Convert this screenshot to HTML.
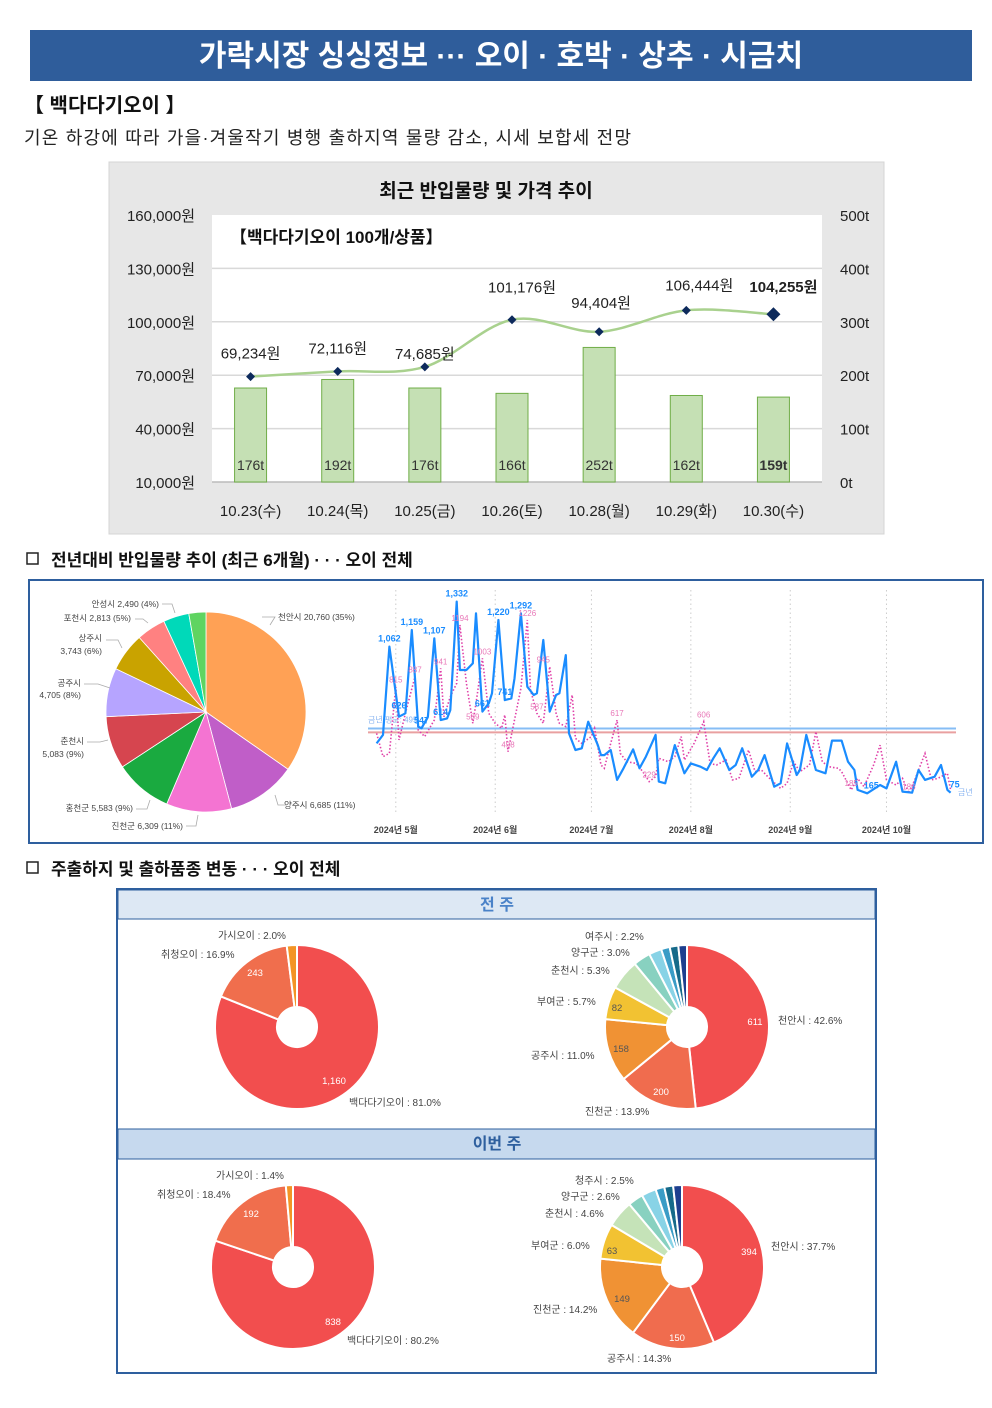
<!DOCTYPE html>
<html><head><meta charset="utf-8"><style>
html,body{margin:0;padding:0;background:#fff;}
body{width:992px;height:1403px;overflow:hidden;font-family:"Liberation Sans","Noto Sans CJK KR",sans-serif;}
svg text{font-family:"Liberation Sans","Noto Sans CJK KR",sans-serif;}
</style></head><body>
<svg id="root" width="992" height="1403" viewBox="0 0 992 1403" xmlns="http://www.w3.org/2000/svg">
<rect x="30" y="30" width="942" height="51" fill="#2f5d9b"/>
<text x="501" y="66" text-anchor="middle" fill="#fff" font-size="30" font-weight="bold">가락시장 싱싱정보 ··· 오이 · 호박 · 상추 · 시금치</text>
<text x="24" y="112" font-size="20" font-weight="bold" fill="#111">【 백다다기오이 】</text>
<text x="24" y="144" font-size="18" fill="#222" letter-spacing="1.2">기온 하강에 따라 가을·겨울작기 병행 출하지역 물량 감소, 시세 보합세 전망</text>

<g id="barchart">
<rect x="109" y="162" width="775" height="372" fill="#e7e7e7" stroke="#d4d4d4"/>
<text x="486" y="197" text-anchor="middle" font-size="19" font-weight="bold" fill="#111">최근 반입물량 및 가격 추이</text>
<rect x="212" y="215" width="610" height="267" fill="#fff"/>
<text x="230" y="243" font-size="17" font-weight="bold" fill="#111">【백다다기오이 100개/상품】</text>
</g>

<g>
<rect x="27" y="553" width="11" height="11" fill="none" stroke="#222" stroke-width="1.5"/>
<text x="51" y="566" font-size="17" font-weight="bold" fill="#111">전년대비 반입물량 추이 (최근 6개월) · · · 오이 전체</text>
<rect x="29" y="580" width="954" height="263" fill="#fff" stroke="#2e5f9e" stroke-width="2"/>
</g>
<g id="pie"></g>
<g id="line"></g>

<g>
<rect x="27" y="862" width="11" height="11" fill="none" stroke="#222" stroke-width="1.5"/>
<text x="51" y="875" font-size="17" font-weight="bold" fill="#111">주출하지 및 출하품종 변동 · · · 오이 전체</text>
<rect x="117" y="889" width="759" height="484" fill="#fff" stroke="#2e5f9e" stroke-width="2"/>
<rect x="118" y="890" width="757" height="29" fill="#dde8f4" stroke="#2e5f9e" stroke-width="1"/>
<text x="497" y="910" text-anchor="middle" font-size="16" font-weight="bold" fill="#4a82c8">전 주</text>
<rect x="118" y="1129" width="757" height="30" fill="#c6d9ee" stroke="#2e5f9e" stroke-width="1"/>
<text x="497" y="1149" text-anchor="middle" font-size="16" font-weight="bold" fill="#2e5f9e">이번 주</text>
</g>
<g id="donuts"></g>
</svg>
<script>
const NS="http://www.w3.org/2000/svg";
function mk(parent,tag,attrs,txt){const e=document.createElementNS(NS,tag);for(const k in attrs)e.setAttribute(k,attrs[k]);if(txt!==undefined)e.textContent=txt;parent.appendChild(e);return e;}

// ===== Bar/line chart data =====
const dates=["10.23(수)","10.24(목)","10.25(금)","10.26(토)","10.28(월)","10.29(화)","10.30(수)"];
const volumes=[176,192,176,166,252,162,159];
const prices=[69234,72116,74685,101176,94404,106444,104255];
const priceTicks=[10000,40000,70000,100000,130000,160000];
const volTicks=[0,100,200,300,400,500];

const bc=document.getElementById('barchart');
const pL=212,pR=822,pT=215,pB=482;
const yP=v=>pB-(v-10000)/150000*(pB-pT);
const yV=v=>pB-v/500*(pB-pT);
const step=(pR-pL)/dates.length;
const xC=i=>pL+step*(i+0.5)-5;
priceTicks.forEach((t,i)=>{
  if(i>0&&i<priceTicks.length-1){const g=mk(bc,'line',{x1:pL,x2:pR,y1:yP(t),y2:yP(t),stroke:'#d9d9d9','stroke-width':1.5});
  
  }
  const l=mk(bc,'text',{x:195,y:yP(t)+6,'text-anchor':'end','font-size':15,fill:'#222'},t.toLocaleString('en-US')+'원');
  
  
});
volTicks.forEach(t=>{
  const l=mk(bc,'text',{x:840,y:yV(t)+6,'font-size':15,fill:'#222'},t+'t');
  
  
});
mk(bc,'line',{x1:pL,x2:pR,y1:pB,y2:pB,stroke:'#bbb','stroke-width':1.5});
volumes.forEach((v,i)=>{
  const b=mk(bc,'rect',{x:xC(i)-16,y:yV(v),width:32,height:pB-yV(v),fill:'#c5e0b4',stroke:'#70ad47','stroke-width':1});
  
  
  const t=mk(bc,'text',{x:xC(i),y:pB-12,'text-anchor':'middle','font-size':14,fill:'#333','font-weight':i==volumes.length-1?'bold':'normal'},v+'t');
  
  
  const d=mk(bc,'text',{x:xC(i),y:516,'text-anchor':'middle','font-size':15,fill:'#222'},dates[i]);
  
  
});
// smooth price line
const pts=prices.map((p,i)=>[xC(i),yP(p)]);
let dStr='M'+pts[0][0]+','+pts[0][1];
for(let i=0;i<pts.length-1;i++){const p0=pts[Math.max(0,i-1)],p1=pts[i],p2=pts[i+1],p3=pts[Math.min(pts.length-1,i+2)];
  const c1=[p1[0]+(p2[0]-p0[0])/6,p1[1]+(p2[1]-p0[1])/6],c2=[p2[0]-(p3[0]-p1[0])/6,p2[1]-(p3[1]-p1[1])/6];
  dStr+=' C'+c1+' '+c2+' '+p2;}
const pl=mk(bc,'path',{d:dStr,fill:'none',stroke:'#a9d18e','stroke-width':2.5});


const lblOff=[[0,-18],[0,-18],[0,-8],[10,-27],[2,-24],[13,-20],[10,-22]];
pts.forEach((p,i)=>{
  const s=i==pts.length-1?7:4.5;
  const m=mk(bc,'path',{d:`M${p[0]},${p[1]-s} L${p[0]+s},${p[1]} L${p[0]},${p[1]+s} L${p[0]-s},${p[1]} Z`,fill:'#0d2a5c'});
  
  
  const t=mk(bc,'text',{x:p[0]+lblOff[i][0],y:p[1]+lblOff[i][1],'text-anchor':'middle','font-size':15,fill:'#222','font-weight':i==pts.length-1?'bold':'normal'},prices[i].toLocaleString('en-US')+'원');
  
  
});

// ===== Pie chart data =====
const pieNames=["천안시","양주시","진천군","홍천군","춘천시","공주시","상주시","포천시","안성시","기타"];
const pieValues=[20760,6685,6309,5583,5083,4705,3743,2813,2490,1650];
const pieColors=["#ffa155","#c05ec8","#f474d2","#1aaa40","#d6454f","#b6a4ff","#c9a300","#ff8181","#00d9b9","#5fd461"];
const pie=document.getElementById('pie');
const pcx=206,pcy=712,pr=100;
const ptot=pieValues.reduce((a,b)=>a+b,0);
function arcPath(cx,cy,r0,r1,a0,a1){
  const P=(r,a)=>[cx+r*Math.sin(a),cy-r*Math.cos(a)];const lg=(a1-a0)>Math.PI?1:0;
  const A=P(r1,a0),B=P(r1,a1);
  if(r0<=0)return `M${cx},${cy} L${A} A${r1},${r1} 0 ${lg} 1 ${B} Z`;
  const C=P(r0,a1),D=P(r0,a0);
  return `M${A} A${r1},${r1} 0 ${lg} 1 ${B} L${C} A${r0},${r0} 0 ${lg} 0 ${D} Z`;
}
let acc=0;
pieValues.forEach((v,i)=>{
  const a0=acc/ptot*2*Math.PI;acc+=v;const a1=acc/ptot*2*Math.PI;
  const s=mk(pie,'path',{d:arcPath(pcx,pcy,0,pr,a0,a1),fill:pieColors[i],stroke:'#fff','stroke-width':0.8});
  
  
});
const pieLabels=[
 [278,620,"천안시 20,760 (35%)",'start'],[284,808,"양주시 6,685 (11%)",'start'],
 [183,829,"진천군 6,309 (11%)",'end'],[133,811,"홍천군 5,583 (9%)",'end'],
 [84,744,"춘천시",'end'],[84,757,"5,083 (9%)",'end'],[81,686,"공주시",'end'],[81,698,"4,705 (8%)",'end'],
 [102,641,"상주시",'end'],[102,654,"3,743 (6%)",'end'],[131,621,"포천시 2,813 (5%)",'end'],[159,607,"안성시 2,490 (4%)",'end']];
pieLabels.forEach(l=>{const t=mk(pie,'text',{x:l[0],y:l[1],'text-anchor':l[3],'font-size':8.5,fill:'#444'},l[2]);
  
  });
[[262,617,275,617,270,625],[287,805,278,805,275,795],[186,826,196,826,198,815],[136,809,147,809,150,800],[87,742,100,742,108,740],[84,684,98,684,110,688],[106,640,118,640,122,648],[135,619,143,619,148,623],[162,604,172,604,175,613]].forEach(c=>{
  const p=mk(pie,'polyline',{points:`${c[0]},${c[1]} ${c[2]},${c[3]} ${c[4]},${c[5]}`,fill:'none',stroke:'#aaa','stroke-width':0.8});
  
  });

// ===== Line chart data =====
const monthLabels=["2024년 5월","2024년 6월","2024년 7월","2024년 8월","2024년 9월","2024년 10월"];
const monthDays=[0,31,61,92,123,153];
const blueDays=[-6,-4,-2,1,3,5,7,8,10,12,14,16,17,19,20,22,24,25,27,29,30,32,34,36,37,39,41,43,44,46,48,50,51,53,54,56,58,60,63,64,65,67,69,71,74,76,78,81,82,84,87,90,92,95,97,99,101,104,106,108,111,113,115,118,120,122,125,126,128,131,134,136,139,141,143,144,147,151,153,156,158,161,163,165,168,170,172,173];
const blueValues=[398,453,1028,572,594,1136,507,496,572,1082,550,561,615,1321,876,876,919,1245,605,659,724,1201,680,691,821,1245,767,713,724,1071,605,713,724,973,463,355,366,539,387,322,322,355,160,236,359,236,312,453,149,138,387,203,268,246,225,301,366,225,257,366,181,225,322,116,138,398,192,225,453,225,203,416,416,279,225,95,73,127,105,279,84,77,225,160,181,257,95,77];
const pinkDays=[-6,-4,-2,0,1,3,6,7,9,12,14,15,17,19,20,22,24,25,27,29,31,33,34,35,37,39,41,42,44,46,48,50,51,53,55,56,58,61,62,64,65,67,69,70,72,75,77,79,81,82,85,87,89,90,93,96,98,100,103,105,107,110,112,114,116,120,122,124,126,129,131,133,135,138,139,142,144,146,149,151,153,156,158,160,162,165,167,169,172,173];
const pinkValues=[463,312,333,767,420,594,832,485,442,550,887,572,702,789,1169,789,529,659,952,594,529,496,583,344,550,756,1201,746,594,529,898,594,529,507,713,431,398,442,496,257,236,398,550,333,279,268,214,149,181,301,279,312,442,290,398,539,268,257,290,160,170,355,214,225,181,105,138,279,214,257,474,279,246,236,214,95,170,116,257,387,160,127,170,73,170,333,160,170,203,95];
const blueAvg=495, pinkAvg=470;
const blueLabels=[[-2,1028,"1,062"],[5,1136,"1,159"],[12,1082,"1,107"],[19,1321,"1,332"],[32,1201,"1,220"],[39,1245,"1,292"],[1,594,"626"],[8,496,"547"],[14,550,"614"],[27,605,"661"],[34,680,"741"],[147,73,"165"],[173,77,"75"]];
const pinkLabels=[[0,767,"815"],[6,832,"887"],[14,887,"941"],[20,1169,"1194"],[27,952,"1003"],[24,529,"589"],[41,1201,"1226"],[46,898,"945"],[44,594,"587"],[35,344,"498"],[69,550,"617"],[96,539,"606"],[79,149,"229"],[142,95,"185"],[160,73,"186"]];

const ln=document.getElementById('line');
const xL=d=>395.8+d*3.207;
const yL=v=>793-(v-75)*0.1536;
monthDays.forEach((d,i)=>{
  const g=mk(ln,'line',{x1:xL(d),x2:xL(d),y1:590,y2:815,stroke:'#ccc','stroke-dasharray':'1.5,3','stroke-width':1});
  
  
  const t=mk(ln,'text',{x:xL(d),y:833,'text-anchor':'middle','font-size':9,'font-weight':'bold',fill:'#444'},monthLabels[i]);
  
  
});
const ab=mk(ln,'line',{x1:368,x2:956,y1:yL(blueAvg),y2:yL(blueAvg),stroke:'#86bdf5','stroke-width':2});


const ar=mk(ln,'line',{x1:368,x2:956,y1:yL(pinkAvg),y2:yL(pinkAvg),stroke:'#e9a0a0','stroke-width':2});


const at=mk(ln,'text',{x:368,y:yL(blueAvg)-6,'font-size':8,fill:'#8ab4f0'},'금년 평균: '+blueAvg);


function series(days,vals,attrs){const n=Math.min(days.length,vals.length);let p='';for(let i=0;i<n;i++)p+=(i?' ':'')+xL(days[i]).toFixed(1)+','+yL(vals[i]).toFixed(1);return mk(ln,'polyline',Object.assign({points:p,fill:'none'},attrs));}
const ps=series(pinkDays,pinkValues,{stroke:'#e040a8','stroke-width':1.6,'stroke-dasharray':'1.5,2'});


const bs=series(blueDays,blueValues,{stroke:'#1a8cff','stroke-width':2.2,'stroke-linejoin':'round'});


pinkLabels.forEach(l=>{const t=mk(ln,'text',{x:xL(l[0]),y:yL(l[1])-4,'text-anchor':'middle','font-size':8,fill:'#e878b8'},l[2]);
  
  });
blueLabels.forEach(l=>{const t=mk(ln,'text',{x:xL(l[0])+(l[1]<300?4:0),y:yL(l[1])-5,'text-anchor':'middle','font-size':9,'font-weight':'bold',fill:'#1a8cff'},l[2]);
  
  });
const en=mk(ln,'text',{x:958,y:795,'font-size':8,fill:'#8ab4f0'},'금년');



// ===== Donut data =====
const varietyNames=["백다다기오이","취청오이","가시오이"];
const varietyLastWeek=[81.0,16.9,2.0];
const varietyThisWeek=[80.2,18.4,1.4];
const varietyColors=["#f24e4e","#f06e4d","#f39425"];
const originLastNames=["천안시","진천군","공주시","부여군","춘천시","양구군","여주시","기타1","기타2","기타3"];
const originLastWeek=[42.6,13.9,11.0,5.7,5.3,3.0,2.2,1.5,1.5,1.5];
const originThisNames=["천안시","공주시","진천군","부여군","춘천시","양구군","청주시","기타1","기타2","기타3"];
const originThisWeek=[37.7,14.3,14.2,6.0,4.6,2.6,2.5,1.5,1.5,1.5];
const originColorsLast=["#f24e4e","#f06c4e","#f09234","#f2c232","#c5e3b8","#88d1c0","#88d3e6","#3a9cc6","#166a8a","#1e3f8f"];
const originColorsThis=["#f24e4e","#f06c4e","#f09234","#f2c232","#c5e3b8","#88d1c0","#88d3e6","#3a9cc6","#166a8a","#1e3f8f"];

const dn=document.getElementById('donuts');
function donut(cx,cy,vals,cols,name){
  const tot=vals.reduce((a,b)=>a+b,0);let a=0;
  vals.forEach((v,i)=>{const a0=a/tot*2*Math.PI;a+=v;const a1=a/tot*2*Math.PI;
    const s=mk(dn,'path',{d:arcPath(cx,cy,20,82,a0,a1),fill:cols[i],stroke:'#fff','stroke-width':2,'stroke-linejoin':'round'});
    
    });
}
donut(297,1027,varietyLastWeek,varietyColors,'variety-last-week');
donut(687,1027,originLastWeek,originColorsLast,'origin-last-week');
donut(293,1267,varietyThisWeek,varietyColors,'variety-this-week');
donut(682,1267,originThisWeek,originColorsThis,'origin-this-week');
const dLabels=[
 [218,939,"가시오이 : 2.0%"],[161,958,"취청오이 : 16.9%"],[349,1106,"백다다기오이 : 81.0%"],
 [585,940,"여주시 : 2.2%"],[571,956,"양구군 : 3.0%"],[551,974,"춘천시 : 5.3%"],[537,1005,"부여군 : 5.7%"],[778,1024,"천안시 : 42.6%"],[531,1059,"공주시 : 11.0%"],[585,1115,"진천군 : 13.9%"],
 [216,1179,"가시오이 : 1.4%"],[157,1198,"취청오이 : 18.4%"],[347,1344,"백다다기오이 : 80.2%"],
 [575,1184,"청주시 : 2.5%"],[561,1200,"양구군 : 2.6%"],[545,1217,"춘천시 : 4.6%"],[531,1249,"부여군 : 6.0%"],[771,1250,"천안시 : 37.7%"],[533,1313,"진천군 : 14.2%"],[607,1362,"공주시 : 14.3%"]];
dLabels.forEach(l=>{const t=mk(dn,'text',{x:l[0],y:l[1],'font-size':10,fill:'#444'},l[2]);
  
  });
const inLabels=[[255,976,"243","#fff"],[334,1084,"1,160","#fff"],[617,1011,"82","#555"],[755,1025,"611","#fff"],[621,1052,"158","#555"],[661,1095,"200","#fff"],
 [251,1217,"192","#fff"],[333,1325,"838","#fff"],[612,1254,"63","#555"],[749,1255,"394","#fff"],[622,1302,"149","#555"],[677,1341,"150","#fff"]];
inLabels.forEach(l=>{const t=mk(dn,'text',{x:l[0],y:l[1],'text-anchor':'middle','font-size':9.5,fill:l[3]},l[2]);
  
  });
</script>
</body></html>
